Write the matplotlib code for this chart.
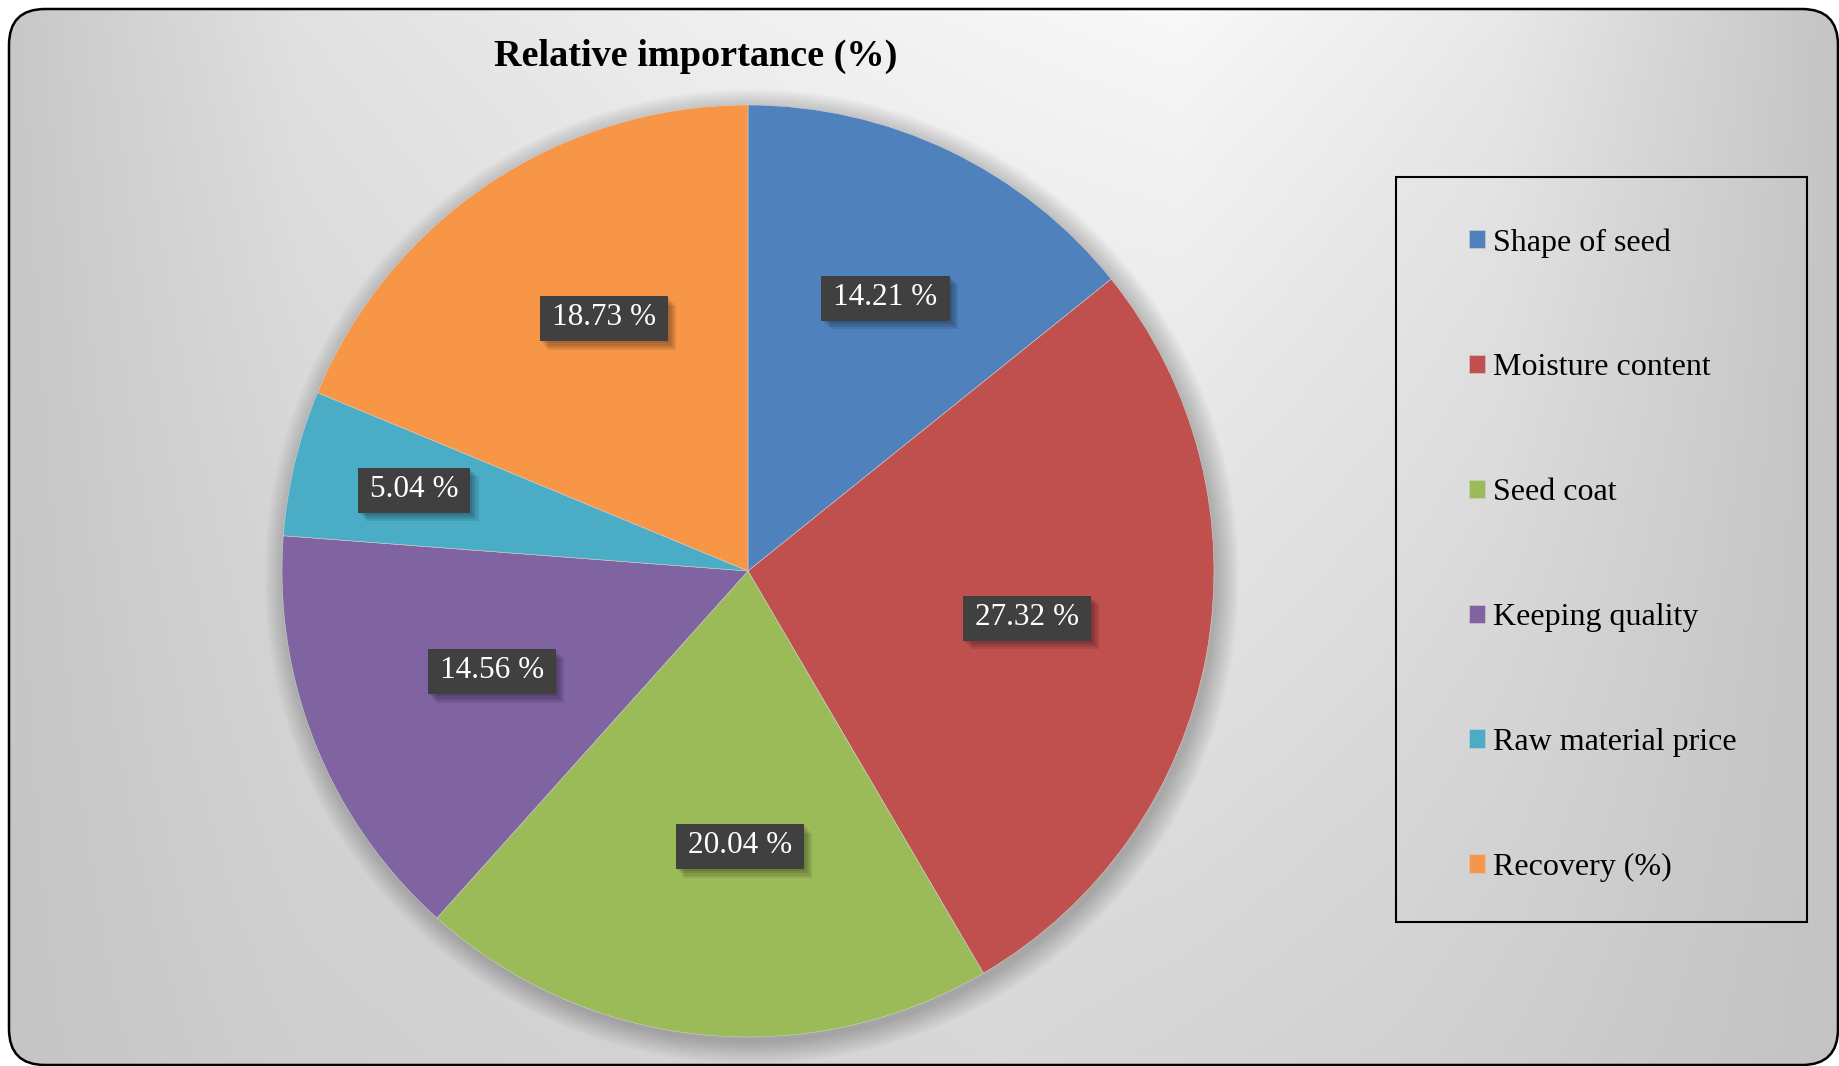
import numpy as np
import matplotlib
matplotlib.use("Agg")
import matplotlib.pyplot as plt
from matplotlib.patches import FancyBboxPatch, Rectangle
import matplotlib.patheffects as pe

# Donnees du graphique
categories = ["Shape of seed", "Moisture content", "Seed coat",
              "Keeping quality", "Raw material price", "Recovery (%)"]
valeurs = [14.21, 27.32, 20.04, 14.56, 5.04, 18.73]
couleurs = ["#4F81BD", "#C0504D", "#9BBB59", "#8064A2", "#4BACC6", "#F79646"]
titre = "Relative importance (%)"

# placement des etiquettes : distance (fraction du rayon) et decalage angulaire (deg)
dist_etiquettes = [0.657, 0.607, 0.59, 0.59, 0.738, 0.625]
decal_angle = [-1.1, 1.0, 4.1, -0.6, -0.3, -4.1]

W, H = 1839, 1066
plt.rcParams['font.family'] = ['Liberation Serif', 'DejaVu Serif']

fig = plt.figure(figsize=(W / 100, H / 100), dpi=100)
fig.patch.set_facecolor("white")

# Fond en degrade avec cadre arrondi
bg = fig.add_axes([0, 0, 1, 1])
bg.axis("off")
xs = np.arange(W)
haut = np.interp(xs, [0, 300, 700, 1180, 1500, 1839], [199, 226, 240, 250, 234, 196])
bas = np.interp(xs, [0, 300, 1000, 1400, 1839], [197, 206, 216, 209, 195])
s = (np.arange(H) / H)[:, None] ** 0.8
gris = haut[None, :] + (bas - haut)[None, :] * s
img = np.dstack([gris, gris, gris]) / 255.0
im = bg.imshow(img, extent=(0, W, H, 0), zorder=0, interpolation="bilinear",
               aspect="auto")
cadre = FancyBboxPatch((9, 9), 1829, 1056,
                       boxstyle="round,pad=0,rounding_size=36",
                       facecolor="none", edgecolor="black", linewidth=1.8, zorder=2)
bg.add_patch(cadre)
im.set_clip_path(cadre)
bg.add_patch(Rectangle((1396, 177), 411, 745, facecolor="none",
                       edgecolor="black", linewidth=1.5, zorder=3))
bg.set_xlim(0, W)
bg.set_ylim(H, 0)

# Camembert
cx, cy, r = 748, 571, 466
ax = fig.add_axes([(cx - r) / W, (H - cy - r) / H, 2 * r / W, 2 * r / H])
ax.set_facecolor("none")
ax.axis("off")

# ombre douce du camembert
for k in range(10):
    c = plt.Circle((0.008, -0.012), 1.0 + 0.005 * k, color="black",
                   alpha=0.022, lw=0, zorder=0, clip_on=False)
    ax.add_patch(c)

wedges, _ = ax.pie(valeurs, colors=couleurs, startangle=90, counterclock=False,
                   radius=1.0, wedgeprops=dict(linewidth=0.4, edgecolor="#d0d0d0"))
ax.set_xlim(-1, 1)
ax.set_ylim(-1, 1)
ax.set_aspect("equal")

textes = []
for w, v, dr, da in zip(wedges, valeurs, dist_etiquettes, decal_angle):
    ang = np.deg2rad((w.theta1 + w.theta2) / 2 + da)
    x, y = dr * np.cos(ang), dr * np.sin(ang)
    tx = ax.text(x, y, f"{v:.2f} %", color="white", fontsize=22.5,
                 ha="center", va="center", zorder=5)
    textes.append(tx)

fig.canvas.draw()
rend = fig.canvas.get_renderer()
inv = ax.transData.inverted()
ombre = [pe.SimplePatchShadow(offset=(o, -o), shadow_rgbFace="black", alpha=0.09)
         for o in (1.5, 3, 4.5, 6)]
for tx in textes:
    bb = tx.get_window_extent(rend)
    xc = (bb.x0 + bb.x1) / 2
    yc = (bb.y0 + bb.y1) / 2 - 1
    w_px, h_px = bb.width + 24, 45
    (x0, y0) = inv.transform((xc - w_px / 2, yc - h_px / 2))
    (x1, y1) = inv.transform((xc + w_px / 2, yc + h_px / 2))
    rect = Rectangle((x0, y0), x1 - x0, y1 - y0, facecolor="#404040",
                     edgecolor="none", zorder=4)
    rect.set_path_effects(ombre + [pe.Normal()])
    ax.add_patch(rect)

# Titre
fig.text(696 / W, 1 - 56 / H, titre, fontsize=27.5, fontweight="bold",
         ha="center", va="center")

# Legende
leg = fig.legend(wedges, categories, loc="upper left",
                 bbox_to_anchor=(1469 / W, 1 - 228 / H), frameon=False,
                 fontsize=23, handlelength=0.5, handleheight=0.5,
                 handletextpad=0.25, labelspacing=3.0, borderpad=0,
                 borderaxespad=0)

fig.savefig("out.png", dpi=100)
